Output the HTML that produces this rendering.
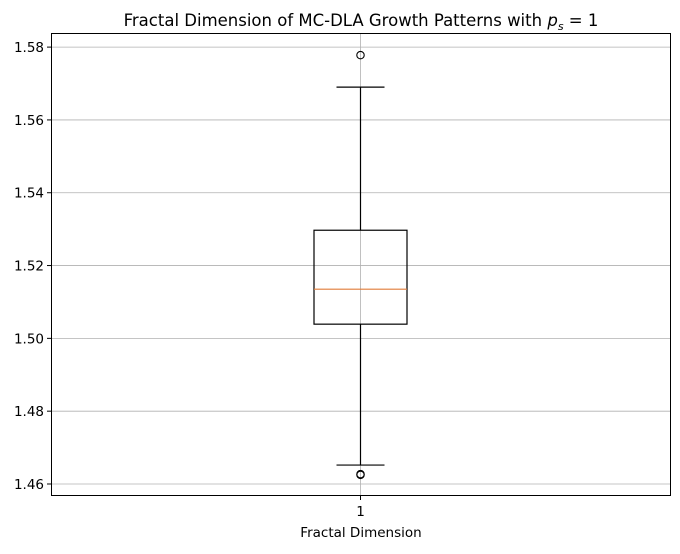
<!DOCTYPE html>
<html><head><meta charset="utf-8"><style>
body{margin:0;background:#fff;}
svg text{font-family:"DejaVu Sans","Liberation Sans",sans-serif;}
</style></head><body>
<svg id="chart" width="680" height="549" xmlns="http://www.w3.org/2000/svg">
<rect width="680" height="549" fill="#fff"/>
<text x="361" y="26" font-size="16.5" text-anchor="middle">Fractal Dimension of MC-DLA Growth Patterns with <tspan font-style="italic">p</tspan><tspan font-style="italic" font-size="11" dy="4">s</tspan><tspan dy="-4"> = 1</tspan></text>
<g id="grid"></g>
<g id="marks"></g>
<rect x="51.5" y="33.5" width="619" height="462" fill="none" stroke="#000" stroke-width="1"/>
<text x="361" y="537" font-size="13.5" text-anchor="middle">Fractal Dimension</text>
</svg>
<script>
const yTicks=[1.46,1.48,1.50,1.52,1.54,1.56,1.58];
const yTickLabels=["1.46","1.48","1.50","1.52","1.54","1.56","1.58"];
const categories=["1"];
const whiskerLow=[1.4652];
const q1=[1.5039];
const median=[1.5135];
const q3=[1.5297];
const whiskerHigh=[1.5690];
const outliers=[[1.5778,1.4627,1.4625]];
const yMin=1.4567,yMax=1.5836,plotTop=34,plotBottom=496,plotLeft=51,plotRight=670;
function y(v){return plotBottom-(v-yMin)/(yMax-yMin)*(plotBottom-plotTop);}
function x(i){return plotLeft+(i+0.5)*(plotRight-plotLeft)/categories.length;}
const NS="http://www.w3.org/2000/svg";
function mk(t,a,p){const e=document.createElementNS(NS,t);for(const k in a)e.setAttribute(k,a[k]);p.appendChild(e);return e;}
const g=document.getElementById('grid'),m=document.getElementById('marks');
yTicks.forEach((v,i)=>{
 const l=mk('line',{x1:plotLeft,x2:plotRight,y1:y(v),y2:y(v),stroke:'#b0b0b0','stroke-width':0.8},g);
 
 
 const t=mk('line',{x1:plotLeft-4,x2:plotLeft,y1:y(v),y2:y(v),stroke:'#000'},g);
 
 
 const tx=mk('text',{x:plotLeft-7,y:y(v)+5,'font-size':13.5,'text-anchor':'end'},g);
 tx.textContent=yTickLabels[i];
 
 
});
categories.forEach((c,i)=>{
 const cx=x(i);
 const vg=mk('line',{x1:cx,x2:cx,y1:plotTop,y2:plotBottom,stroke:'#b0b0b0','stroke-width':0.8},g);
 
 
 const tk=mk('line',{x1:cx,x2:cx,y1:plotBottom,y2:plotBottom+4,stroke:'#000'},g);
 
 
 const tl=mk('text',{x:cx,y:plotBottom+20,'font-size':13.5,'text-anchor':'middle'},g);
 tl.textContent=c;
 
 
 const bw=93,cw=48;
 const w1=mk('line',{x1:cx,x2:cx,y1:y(q1[i]),y2:y(whiskerLow[i]),stroke:'#000','stroke-width':1.2},m);
 
 
 const w2=mk('line',{x1:cx,x2:cx,y1:y(q3[i]),y2:y(whiskerHigh[i]),stroke:'#000','stroke-width':1.2},m);
 
 
 const c1=mk('line',{x1:cx-cw/2,x2:cx+cw/2,y1:y(whiskerLow[i]),y2:y(whiskerLow[i]),stroke:'#000','stroke-width':1.2},m);
 
 
 const c2=mk('line',{x1:cx-cw/2,x2:cx+cw/2,y1:y(whiskerHigh[i]),y2:y(whiskerHigh[i]),stroke:'#000','stroke-width':1.2},m);
 
 
 const b=mk('rect',{x:cx-bw/2,y:y(q3[i]),width:bw,height:y(q1[i])-y(q3[i]),fill:'none',stroke:'#000','stroke-width':1.2},m);
 
 
 const md=mk('line',{x1:cx-bw/2,x2:cx+bw/2,y1:y(median[i]),y2:y(median[i]),stroke:'#e07b39','stroke-width':1.2},m);
 
 
 outliers[i].forEach(v=>{
  const o=mk('circle',{cx:cx,cy:y(v),r:3.7,fill:'none',stroke:'#000','stroke-width':1.1},m);
  
  
 });
});
</script>
</body></html>
